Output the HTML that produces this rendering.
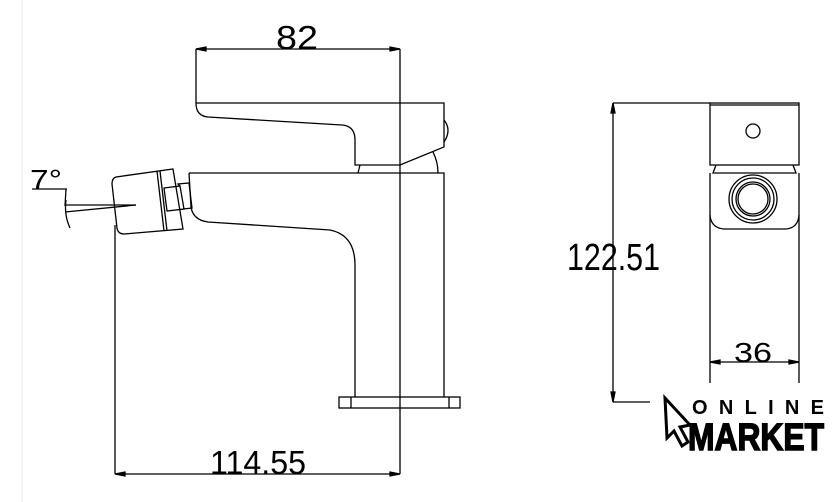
<!DOCTYPE html>
<html><head><meta charset="utf-8"><style>
html,body{margin:0;padding:0;background:#fff;}
svg{display:block;}
text{font-family:"Liberation Sans",sans-serif;}
</style></head><body>
<svg width="838" height="502" viewBox="0 0 838 502" xmlns="http://www.w3.org/2000/svg">
<line x1="22" y1="0" x2="22" y2="502" stroke="#eee" stroke-width="1"/>
<g fill="none" stroke="#000" stroke-width="1.3">
<line x1="196" y1="49" x2="400" y2="49"/>
<polygon points="196,49 206,47 206,51" fill="#000"/>
<polygon points="400,49 390,47 390,51" fill="#000"/>
<line x1="196" y1="49" x2="196" y2="103"/>
<line x1="400" y1="49" x2="400" y2="474"/>
<path d="M196,103 L444,103 L444,147 L400,165 L355,165 L355,140 Q355,126 342,125 L208,117 Q196,116 196,103"/>
<path d="M444,120 Q452,130 444,142"/>
<line x1="360" y1="165" x2="358" y2="173"/>
<path d="M433,152 Q438,162 438,173"/>
<path d="M189,173 L444,173 L444,397"/>
<path d="M189,173 L191,207 Q193,220 208,222 L330,230 Q355,235 355,265 L355,397"/>
<rect x="339" y="397" width="121" height="11"/>
<line x1="351" y1="397" x2="351" y2="408"/>
<line x1="449" y1="397" x2="449" y2="408"/>
<path d="M116,177 L173,169 L183,229 L124,234 Q118,234 117,228 L112,184 Q112,178 116,177 Z"/>
<line x1="157" y1="171" x2="164" y2="231"/>
<line x1="160" y1="171" x2="167" y2="231"/>
<path d="M164,188 L180,186 L184,209 L167,211 Z"/>
<path d="M180,186 L178,184 L189,183 L192,208 L183,209"/>
<line x1="32" y1="189" x2="67" y2="189"/>
<line x1="66" y1="189" x2="65" y2="206"/>
<line x1="65" y1="212" x2="136" y2="205"/>
<line x1="65" y1="205" x2="136" y2="205"/>
<path d="M66,200 Q64,215 70,228"/>
<line x1="115" y1="225" x2="115" y2="474"/>
<line x1="115" y1="474" x2="400" y2="474"/>
<polygon points="115,474 125,472 125,476" fill="#000"/>
<polygon points="400,474 390,472 390,476" fill="#000"/>
<line x1="613" y1="103" x2="710" y2="103"/>
<line x1="613" y1="402" x2="650" y2="402"/>
<line x1="613" y1="103" x2="613" y2="402"/>
<polygon points="613,103 611,113 615,113" fill="#000"/>
<polygon points="613,402 611,392 615,392" fill="#000"/>
<rect x="710" y="103" width="89" height="62"/>
<line x1="710" y1="105" x2="799" y2="105"/>
<circle cx="753" cy="131" r="7"/>
<path d="M716,165 L713,173 L796,173 L793,165"/>
<path d="M710,173 L710,383 M799,173 L799,383"/>
<path d="M710,215 Q711,228 724,229 L786,229 Q798,228 799,215"/>
<circle cx="753" cy="199" r="24"/>
<circle cx="753" cy="199" r="21"/>
<circle cx="753" cy="199" r="17"/>
<circle cx="753" cy="199" r="15"/>
<line x1="710" y1="362" x2="799" y2="362"/>
<polygon points="710,362 720,360 720,364" fill="#000"/>
<polygon points="799,362 789,360 789,364" fill="#000"/>
</g>
<g fill="#000">
<text x="276" y="49" font-size="33" textLength="42" lengthAdjust="spacingAndGlyphs">82</text>
<text x="210" y="474" font-size="33" textLength="96" lengthAdjust="spacingAndGlyphs">114.55</text>
<text x="567" y="270" font-size="38" textLength="93" lengthAdjust="spacingAndGlyphs">122.51</text>
<text x="734" y="362" font-size="28" textLength="38" lengthAdjust="spacingAndGlyphs">36</text>
<text x="30" y="189" font-size="28" textLength="32" lengthAdjust="spacingAndGlyphs">7°</text>
<text x="692" y="414" font-size="20" font-weight="bold" textLength="132" lengthAdjust="spacing">ONLINE</text>
<text x="688" y="450" font-size="38" font-weight="bold" stroke="#000" stroke-width="1.5" textLength="136" lengthAdjust="spacingAndGlyphs">MARKET</text>
</g>
<path d="M665,398 L690,425 L680,427 L688,442 L682,446 L674,431 L667,438 Z" fill="#fff" stroke="#000" stroke-width="3"/>
</svg>
</body></html>
